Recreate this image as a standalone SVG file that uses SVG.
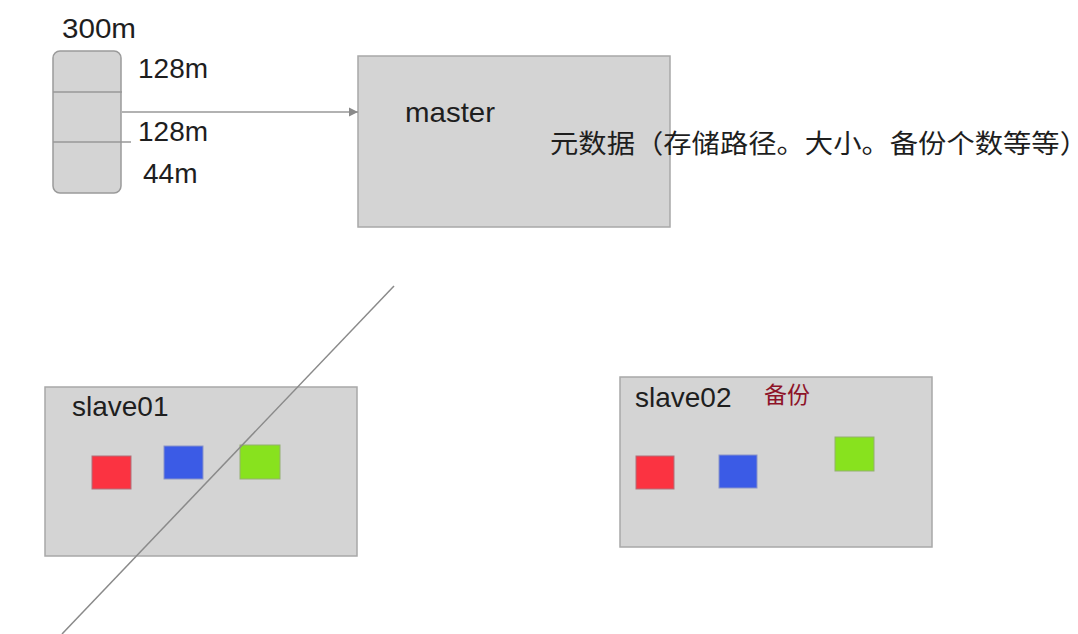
<svg xmlns="http://www.w3.org/2000/svg" width="1078" height="634" viewBox="0 0 1078 634">
<defs>
<style>
.box{fill:#d4d4d4;stroke:#a8a8a8;stroke-width:1.5}
.t{font-family:"Liberation Sans","Noto Sans CJK SC",sans-serif;font-size:28px;fill:#1e1e1e}
.cn{font-family:"Noto Sans CJK SC","Liberation Sans",sans-serif;fill:#1e1e1e}
.div{stroke:#999;stroke-width:1.5}
.red{fill:#fb3341;stroke:#b0707a;stroke-width:1}
.blue{fill:#3b5be6;stroke:#8a94c8;stroke-width:1}
.green{fill:#88e21e;stroke:#94b070;stroke-width:1}
</style>
<marker id="arr" markerWidth="10" markerHeight="10" refX="9" refY="5" orient="auto" markerUnits="userSpaceOnUse">
<path d="M0,0.5 L9,5 L0,9.5 Z" fill="#8a8a8a"/>
</marker>
</defs>
<rect width="1078" height="634" fill="#ffffff"/>

<g id="file">
<text class="t" x="62" y="38" textLength="74" lengthAdjust="spacingAndGlyphs">300m</text>
<rect class="box" x="53" y="51" width="68" height="142" rx="7" style="stroke:#9a9a9a"/>
<line class="div" x1="53" y1="92" x2="122" y2="92"/>
<line class="div" x1="53" y1="142" x2="131" y2="142"/>
<text class="t" x="138" y="78">128m</text>
<text class="t" x="138" y="141">128m</text>
<text class="t" x="143" y="183">44m</text>
</g>

<g id="master">
<rect class="box" x="358" y="56" width="312" height="171"/>
<text class="t" x="405" y="122" textLength="90" lengthAdjust="spacingAndGlyphs">master</text>
<text class="cn" x="550" y="153" font-size="26" textLength="538" lengthAdjust="spacingAndGlyphs">元数据（存储路径。大小。备份个数等等）</text>
</g>

<g id="slave01">
<rect class="box" x="45" y="387" width="312" height="169"/>
<text class="t" x="72" y="416">slave01</text>
<rect class="red" x="92" y="456" width="39" height="33"/>
<rect class="blue" x="164" y="446" width="39" height="33"/>
<rect class="green" x="240" y="445" width="40" height="34"/>
</g>

<g id="slave02">
<rect class="box" x="620" y="377" width="312" height="170"/>
<text class="t" x="635" y="407">slave02</text>
<text class="cn" x="764" y="403" font-size="23" style="fill:#8e1328">备份</text>
<rect class="red" x="636" y="456" width="38" height="33"/>
<rect class="blue" x="719" y="455" width="38" height="33"/>
<rect class="green" x="835" y="437" width="39" height="34"/>
</g>

<g id="connectors">
<line x1="122" y1="112" x2="358" y2="112" stroke="#999" stroke-width="1.5" marker-end="url(#arr)"/>
<line x1="394" y1="286" x2="62" y2="634" stroke="#8a8a8a" stroke-width="1.5"/>
</g>
</svg>
